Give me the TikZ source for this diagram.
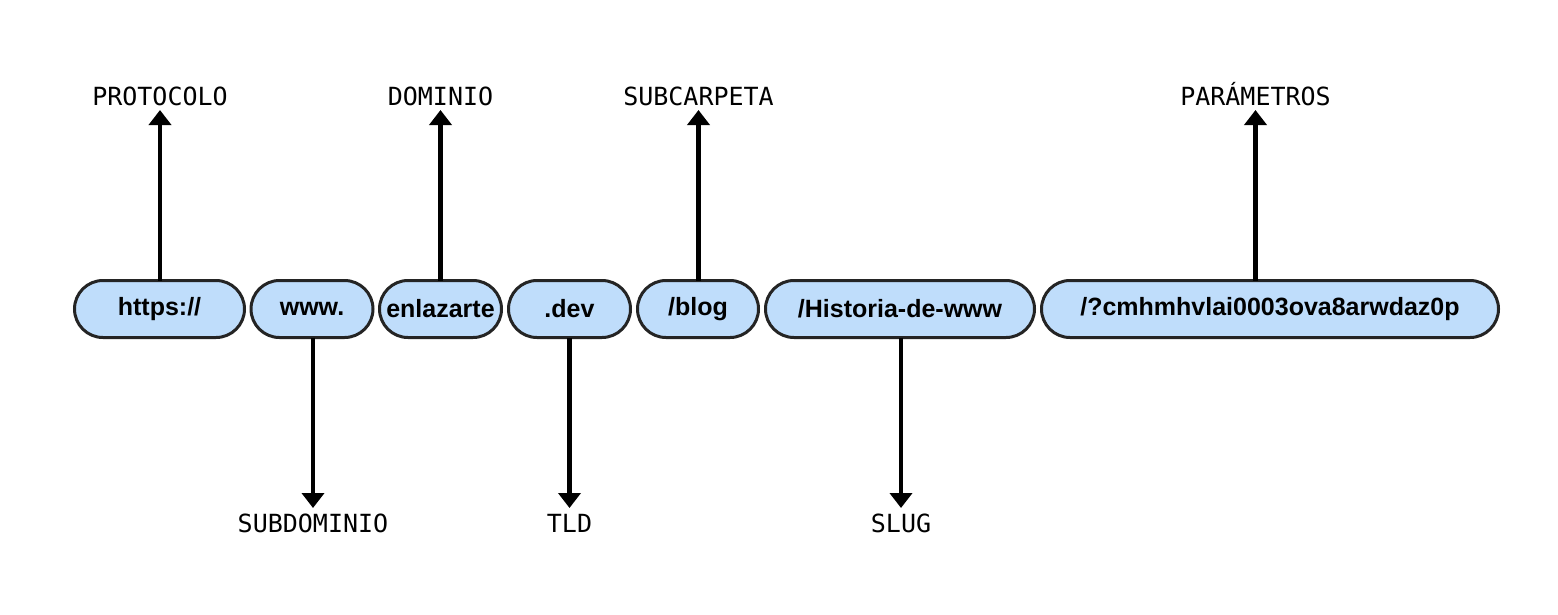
\documentclass[tikz,border=0pt]{standalone}
\usepackage{fontspec}
\usetikzlibrary{arrows.meta}
\newfontfamily\boxfont{Liberation Sans}
\newfontfamily\lblfont{DejaVu Sans Mono}
\definecolor{boxfill}{HTML}{BFDDFB}
\definecolor{boxline}{HTML}{242424}
\tikzset{
  seg/.style={draw=boxline, fill=boxfill, line width=3pt, rounded corners=28.5pt,
    minimum height=57pt, inner sep=0pt, outer sep=0pt,
    font=\boxfont\bfseries\fontsize{25}{25}\selectfont},
  lbl/.style={font=\lblfont\fontsize{25}{25}\selectfont, text height=18pt, text depth=0pt,
    inner xsep=0pt, outer sep=0pt},
  lbltop/.style={lbl, inner ysep=5pt},
  lblbot/.style={lbl, inner ysep=6pt},
  arr/.style={line width=4.5pt, line join=round, arrows={-Triangle[width=22pt,length=15pt]}}
}
\begin{document}
\begin{tikzpicture}[x=1pt,y=-1pt]
\useasboundingbox[fill=white] (0,0) rectangle (1558,614);
\node[seg, minimum width=170pt] (https) at (159.5,309) {https://};
\node[seg, minimum width=122pt] (www) at (312,309) {www.};
\node[seg, minimum width=122pt] (dom) at (440.5,309) {enlazarte};
\node[seg, minimum width=122pt] (tld) at (569.5,309) {.dev};
\node[seg, minimum width=121pt] (blog) at (698,309) {/blog};
\node[seg, minimum width=269pt] (slug) at (900,309) {/Historia-de-www};
\node[seg, minimum width=457pt] (par) at (1270,309) {/?cmhmhvlai0003ova8arwdaz0p};

\node[lbltop] (lproto) at (160,96) {PROTOCOLO};
\node[lbltop] (ldom) at (440.5,96) {DOMINIO};
\node[lbltop] (lsub) at (698.5,96) {SUBCARPETA};
\node[lbltop] (lpar) at (1255.5,96) {PARÁMETROS};
\node[lblbot] (lwww) at (313,523) {SUBDOMINIO};
\node[lblbot] (ltld) at (569.5,523) {TLD};
\node[lblbot] (lslug) at (901,523) {SLUG};

\draw[arr] (https.north -| lproto) -- (lproto.south);
\draw[arr] (dom.north -| ldom) -- (ldom.south);
\draw[arr] (blog.north -| lsub) -- (lsub.south);
\draw[arr] (par.north -| lpar) -- (lpar.south);
\draw[arr] (www.south -| lwww) -- (lwww.north);
\draw[arr] (tld.south -| ltld) -- (ltld.north);
\draw[arr] (slug.south -| lslug) -- (lslug.north);
\end{tikzpicture}
\end{document}
